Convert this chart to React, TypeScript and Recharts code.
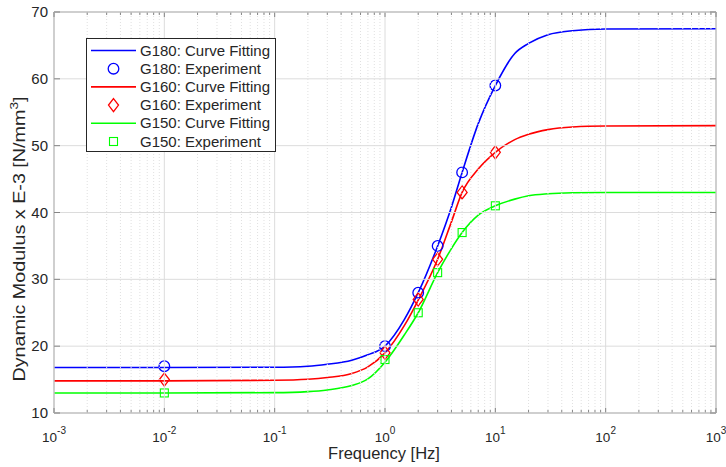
import { ComposedChart, Legend, Line, ReferenceLine, Scatter, XAxis, YAxis } from "recharts"

// curve fitting read at these frequencies [Hz]
const fitFreq = [0.001, 0.01, 0.1, 0.2, 0.3, 0.5, 0.7, 1, 1.5, 2, 3, 4, 5, 7, 10, 15, 20, 30, 50, 100, 1000]
const g180Fit = [16.8, 16.8, 16.85, 17.0, 17.3, 17.9, 18.7, 20.0, 24.0, 28.0, 35.0, 40.8, 46.0, 53.3, 59.0, 63.8, 65.3, 66.6, 67.2, 67.45, 67.5]
const g160Fit = [14.8, 14.8, 14.9, 15.05, 15.3, 15.9, 16.9, 19.0, 23.1, 26.9, 33.0, 38.6, 43.0, 46.5, 49.0, 50.9, 51.7, 52.4, 52.8, 52.95, 53.0]
const g150Fit = [13.0, 13.0, 13.05, 13.2, 13.45, 14.1, 15.1, 17.6, 21.7, 25.0, 31.0, 34.6, 37.0, 39.6, 41.0, 42.0, 42.5, 42.8, 42.95, 43.0, 43.0]

// experiment points
const expFreq = [0.01, 1, 2, 3, 5, 10]
const g180Exp = [17, 20, 28, 35, 46, 59]
const g160Exp = [15, 19, 27, 33, 43, 49]
const g150Exp = [13, 18, 25, 31, 37, 41]

const xMajor = [0.001, 0.01, 0.1, 1, 10, 100, 1000]
const xMinor = xMajor.slice(0, -1).flatMap((d) => [2, 3, 4, 5, 6, 7, 8, 9].map((m) => +(d * m).toPrecision(3)))
const yTicks = [10, 20, 30, 40, 50, 60, 70]

const W = 726
const H = 467
const PLOT_W = 662
const PLOT_H = 401
const AXIS = "#858585"
const TEXT = "#262626"
const FONT = "'Liberation Sans', Arial, sans-serif"

const toRows = (xs: number[], ys: number[]) => xs.map((f, i) => ({ f, v: ys[i] }))

const series = [
  { name: "G180", color: "#0000ff", fit: g180Fit, exp: g180Exp, marker: "circle" },
  { name: "G160", color: "#ff0000", fit: g160Fit, exp: g160Exp, marker: "diamond" },
  { name: "G150", color: "#00ff00", fit: g150Fit, exp: g150Exp, marker: "square" },
]

function Marker({ cx, cy, kind, color }: { cx: number; cy: number; kind: string; color: string }) {
  if (kind === "circle") return <circle cx={cx} cy={cy} r={5.3} fill="none" stroke={color} strokeWidth={1.3} />
  if (kind === "diamond")
    return (
      <polygon
        points={`${cx},${cy - 6.5} ${cx + 5},${cy} ${cx},${cy + 6.5} ${cx - 5},${cy}`}
        fill="none"
        stroke={color}
        strokeWidth={1.3}
      />
    )
  return <rect x={cx - 4} y={cy - 4} width={8} height={8} fill="none" stroke={color} strokeWidth={1.1} />
}

function XTick(props: any) {
  const { x, y, payload } = props
  const v = payload.value
  const major = xMajor.includes(v)
  const top = y - PLOT_H
  const len = major ? 5 : 3
  return (
    <g>
      <line
        x1={x}
        x2={x}
        y1={y}
        y2={top}
        stroke={major ? "#dcdcdc" : "#e0e0e0"}
        strokeDasharray={major ? undefined : "1 2"}
      />
      <line x1={x} x2={x} y1={y} y2={y - len} stroke={AXIS} />
      <line x1={x} x2={x} y1={top} y2={top + len} stroke={AXIS} />
      {major && (
        <text x={x} y={y + 29} textAnchor="middle" fill={TEXT} fontSize={13.5} fontFamily={FONT}>
          10
          <tspan dy={-8} fontSize={10}>
            {Math.round(Math.log10(v))}
          </tspan>
        </text>
      )}
    </g>
  )
}

function YTick(props: any) {
  const { x, y, payload } = props
  const right = x + PLOT_W
  return (
    <g>
      <line x1={x} x2={right} y1={y} y2={y} stroke="#dcdcdc" />
      <line x1={x} x2={x + 6} y1={y} y2={y} stroke={AXIS} />
      <line x1={right} x2={right - 6} y1={y} y2={y} stroke={AXIS} />
      <text x={x - 6} y={y + 5} textAnchor="end" fill={TEXT} fontSize={15} fontFamily={FONT}>
        {payload.value}
      </text>
    </g>
  )
}

function LegendBox() {
  const rows = series.flatMap((s) => [
    { label: `${s.name}: Curve Fitting`, color: s.color, marker: null as string | null },
    { label: `${s.name}: Experiment`, color: s.color, marker: s.marker },
  ])
  return (
    <svg width={190} height={114} style={{ display: "block" }}>
      <rect x={0.5} y={0.5} width={189} height={113} fill="#fff" stroke={TEXT} strokeWidth={1} />
      {rows.map((r, i) => {
        const cy = 12.5 + i * 18.2
        return (
          <g key={r.label}>
            {r.marker ? (
              <Marker cx={27.5} cy={cy} kind={r.marker} color={r.color} />
            ) : (
              <line x1={5} x2={50} y1={cy} y2={cy} stroke={r.color} strokeWidth={1.6} />
            )}
            <text x={54} y={cy + 5} fill={TEXT} fontSize={15} fontFamily={FONT}>
              {r.label}
            </text>
          </g>
        )
      })}
    </svg>
  )
}

export default function App() {
  return (
    <div style={{ width: W, height: H, background: "#fff" }}>
      <style>{"body{margin:0}"}</style>
      <ComposedChart width={W} height={H} margin={{ top: 12, right: 10, bottom: 0, left: 0 }}>
        <XAxis
          dataKey="f"
          type="number"
          scale="log"
          domain={[0.001, 1000]}
          allowDataOverflow
          ticks={[...xMajor, ...xMinor].sort((a, b) => a - b)}
          interval={0}
          tick={<XTick />}
          tickLine={false}
          tickSize={0}
          tickMargin={0}
          axisLine={{ stroke: AXIS }}
          height={54}
        />
        <YAxis
          dataKey="v"
          type="number"
          domain={[10, 70]}
          ticks={yTicks}
          interval={0}
          tick={<YTick />}
          tickLine={false}
          tickSize={0}
          tickMargin={0}
          axisLine={{ stroke: AXIS }}
          width={54}
        />
        <ReferenceLine y={70} stroke={AXIS} />
        <ReferenceLine x={1000} stroke={AXIS} />
        {series.map((s) => (
          <Line
            key={s.name + "fit"}
            data={toRows(fitFreq, s.fit)}
            dataKey="v"
            type="monotone"
            stroke={s.color}
            strokeWidth={1.6}
            dot={false}
            isAnimationActive={false}
          />
        ))}
        {series.map((s) => (
          <Scatter
            key={s.name + "exp"}
            data={toRows(expFreq, s.exp)}
            dataKey="v"
            isAnimationActive={false}
            shape={(p: any) => <Marker cx={p.cx} cy={p.cy} kind={s.marker} color={s.color} />}
          />
        ))}
        <Legend
          layout="horizontal"
          verticalAlign="middle"
          align="center"
          content={() => <LegendBox />}
          wrapperStyle={{ position: "absolute", left: 86, top: 38, width: "auto", margin: 0 }}
        />
        <text x={384} y={459} textAnchor="middle" fill={TEXT} fontSize={16.5} fontFamily={FONT}>
          Frequency [Hz]
        </text>
        <text
          x={0}
          y={0}
          transform="translate(25, 239) rotate(-90)"
          textAnchor="middle"
          fill={TEXT}
          fontSize={16}
          fontFamily={FONT}
          textLength={285}
          lengthAdjust="spacingAndGlyphs"
        >
          Dynamic Modulus x E-3 [N/mm
          <tspan dy={-7} fontSize={11}>
            3
          </tspan>
          <tspan dy={7}>]</tspan>
        </text>
      </ComposedChart>
    </div>
  )
}
